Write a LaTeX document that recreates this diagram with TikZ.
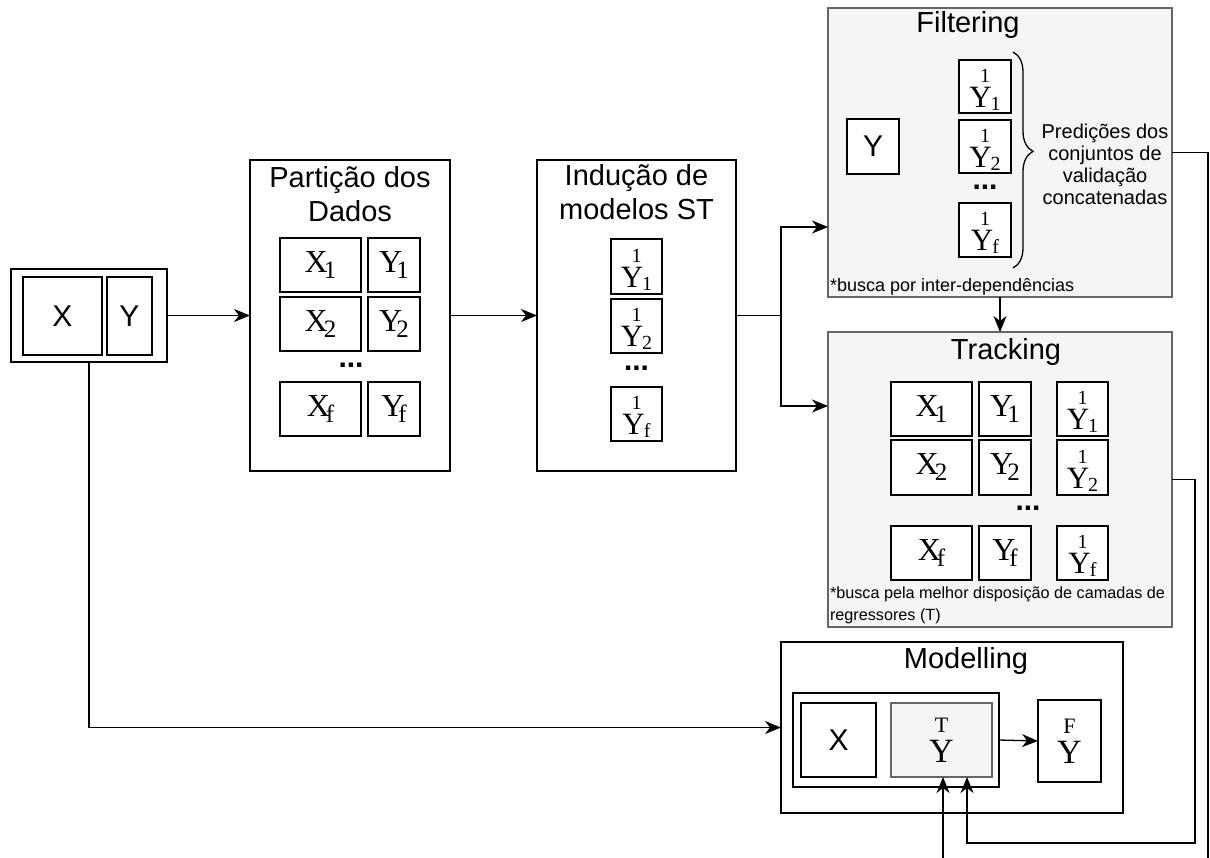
\documentclass[tikz,border=0pt]{standalone}
\usepackage{fontspec}
\setmainfont{Liberation Sans}
\newfontfamily\serf{Liberation Serif}
\usetikzlibrary{arrows.meta,decorations.pathreplacing}
\definecolor{panelfill}{HTML}{F5F5F5}
\definecolor{panelline}{HTML}{666666}

% a small glyph centred above a body, baselines a fixed distance apart
\newcommand{\stk}[5]{\vbox{\kern#5\baselineskip=#3\lineskiplimit=-100pt\lineskip=0pt
  \halign{\hfil##\hfil\cr\fontsize{#2}{#2}\selectfont #1\cr #4\cr}}}
% Y with a superscript 1 on top and an index below right
\newcommand{\yk}[1]{{\serf\stk{1}{20}{25pt}{\fontsize{31}{31}\selectfont Y\kern-1pt\raisebox{-3pt}{\fontsize{20}{20}\selectfont #1}}{6pt}}}
% X or Y with an index
\newcommand{\xsub}[1]{{\serf\fontsize{32}{32}\selectfont X\kern-4pt\raisebox{-6pt}{\fontsize{25}{25}\selectfont #1}}}
\newcommand{\ysub}[1]{{\serf\fontsize{32}{32}\selectfont Y\kern-6pt\raisebox{-6pt}{\fontsize{25}{25}\selectfont #1}}}

\begin{document}
\begin{tikzpicture}[x=1pt,y=-1pt,
  every node/.style={inner sep=0pt,outer sep=0pt},
  sz/.style 2 args={minimum width=#1pt,minimum height=#2pt},
  box/.style={draw=black,fill=white,line width=1.3pt},
  panel/.style={draw=panelline,fill=panelfill,line width=1.3pt},
  title/.style={font=\fontsize{29}{34}\selectfont,align=center},
  bigsans/.style={font=\fontsize{30}{30}\selectfont},
  dotsf/.style={font=\fontsize{30}{30}\selectfont\bfseries},
  link/.style={line width=1.3pt,draw=black},
  arr/.style={link,-{Stealth[length=16pt,width=13pt,inset=5pt]}}
]
\useasboundingbox (0,0) rectangle (1210,857);
\fill[white] (0,0) rectangle (1210,857);
\clip (0,0) rectangle (1210,857);

% ---------- input data ----------
\node[box,sz={156}{93}] (inp) at (89,315.5) {};
\node[box,sz={79}{78},bigsans] (inx) at (62.5,316) {X};
\node[box,sz={45}{78},bigsans] (iny) at (129.5,316) {Y};

% ---------- data partition ----------
\node[box,sz={200}{311}] (part) at (350,315.5) {};
\node[title] (partT) at (350,194) {Partição dos\\Dados};
\node[box,sz={81}{54}] (px1) at (320.5,265) {\xsub{1}};
\node[box,sz={52}{54}] (py1) at (394,265) {\ysub{1}};
\node[box,sz={81}{54}] (px2) at (320.5,324) {\xsub{2}};
\node[box,sz={52}{54}] (py2) at (394,324) {\ysub{2}};
\node[dotsf] (pdots) at (351,365) {...};
\node[box,sz={81}{54}] (pxf) at (320.5,409) {\xsub{f}};
\node[box,sz={52}{54}] (pyf) at (394,409) {\ysub{f}};

% ---------- single-target models ----------
\node[box,sz={199}{311}] (ind) at (636.5,315.5) {};
\node[title] (indT) at (636.5,192) {Indução de\\modelos ST};
\node[box,sz={51}{55}] (iy1) at (636.5,266.5) {\yk{1}};
\node[box,sz={51}{54}] (iy2) at (636.5,326) {\yk{2}};
\node[dotsf] (idots) at (636.5,368) {...};
\node[box,sz={51}{54}] (iyf) at (636.5,414) {\yk{f}};

% ---------- filtering ----------
\node[panel,sz={344}{289}] (filt) at (1000,152.5) {};
\node[title,anchor=base] (filtT) at (968,32) {Filtering};
\node[box,sz={52}{55},bigsans] (fy) at (873,146.5) {Y};
\node[box,sz={52}{53}] (fy1) at (985,86.5) {\yk{1}};
\node[box,sz={52}{53}] (fy2) at (985,146.5) {\yk{2}};
\node[dotsf] (fdots) at (985,187) {...};
\node[box,sz={52}{54}] (fyf) at (985,230) {\yk{f}};
\draw[link,decorate,decoration={brace,amplitude=20pt,aspect=0.46}] (1013,52) -- (1013,268);
\node[font=\fontsize{20}{22}\selectfont,align=center] (pred) at (1105,164)
  {Predições dos\\conjuntos de\\validação\\concatenadas};
\node[font=\fontsize{18}{22}\selectfont,anchor=base west] (fnote) at (830,291) {*busca por inter-dependências};

% ---------- tracking ----------
\node[panel,sz={344}{295}] (trk) at (1000,479.5) {};
\node[title,anchor=base] (trkT) at (1006,359) {Tracking};
\node[box,sz={81}{54}] (tx1) at (931.5,409) {\xsub{1}};
\node[box,sz={52}{54}] (ty1) at (1005,409) {\ysub{1}};
\node[box,sz={51}{54}] (tz1) at (1082.5,409) {\yk{1}};
\node[box,sz={81}{55}] (tx2) at (931.5,467.5) {\xsub{2}};
\node[box,sz={52}{55}] (ty2) at (1005,467.5) {\ysub{2}};
\node[box,sz={51}{55}] (tz2) at (1082.5,467.5) {\yk{2}};
\node[dotsf] (tdots) at (1028,508) {...};
\node[box,sz={81}{54}] (txf) at (931.5,553) {\xsub{f}};
\node[box,sz={52}{54}] (tyf) at (1005,553) {\ysub{f}};
\node[box,sz={51}{54}] (tzf) at (1082.5,553) {\yk{f}};
\node[font=\fontsize{16.2}{22}\selectfont,anchor=base west] (tnote1) at (830,598) {*busca pela melhor disposição de camadas de};
\node[font=\fontsize{16.2}{22}\selectfont,anchor=base west] (tnote2) at (830,620) {regressores (T)};

% ---------- modelling ----------
\node[box,sz={342}{171}] (mod) at (952,727.5) {};
\node[title,anchor=base] (modT) at (966,668) {Modelling};
\node[box,sz={206}{94}] (cont) at (896,740) {};
\node[box,sz={75}{74},bigsans] (mx) at (838.5,740) {X};
\node[panel,sz={101}{74}] (yt) at (941.5,740)
  {\serf\stk{T}{22}{30pt}{\fontsize{34}{34}\selectfont Y}{0pt}};
\node[box,sz={63}{82}] (yf) at (1069.5,741)
  {\serf\stk{F}{22}{30pt}{\fontsize{34}{34}\selectfont Y}{0pt}};

% ---------- connectors ----------
\coordinate (split) at (781,315.5);
\draw[arr] (inp.east) -- (part.west);
\draw[arr] (part.east) -- (ind.west);
\draw[link] (ind.east) -- (split);
\draw[arr] (split) |- ([yshift=-74.5pt]filt.west);
\draw[arr] (split) |- ([yshift=73.5pt]trk.west);
\draw[arr] (filt.south) -- (trk.north);
\draw[arr] (inp.south) |- (mod.west);
\draw[arr] (cont.east) -- (yf.west);
\coordinate (fbA) at (1208,872);
\coordinate (fbB) at (1195,843);
\draw[arr] (filt.east) -| (fbA) -| ([xshift=1.5pt]yt.south);
\draw[arr] (trk.east) -| (fbB) -| ([xshift=25.5pt]yt.south);
\end{tikzpicture}
\end{document}
